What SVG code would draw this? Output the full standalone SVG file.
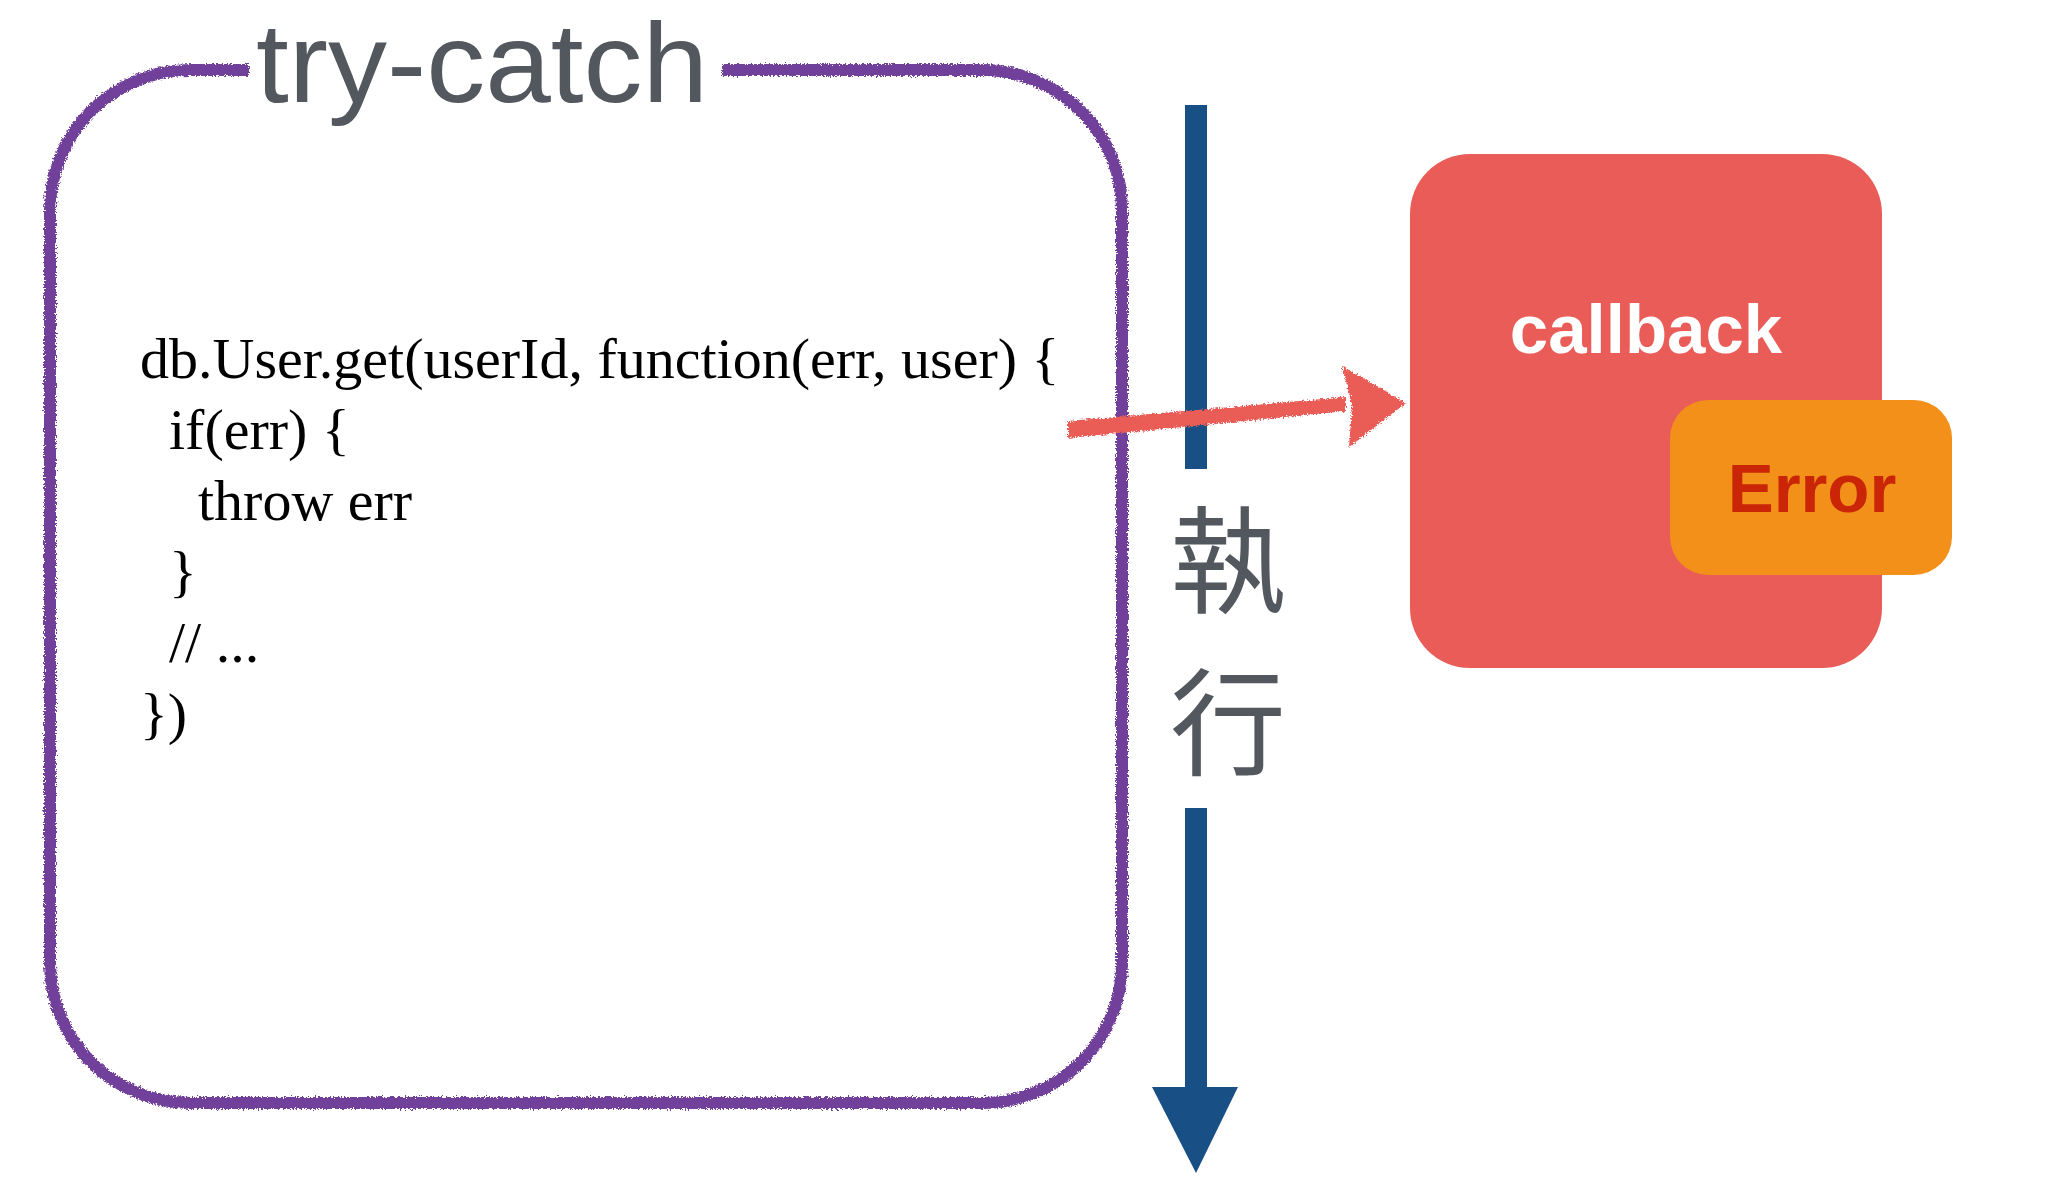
<svg xmlns="http://www.w3.org/2000/svg" width="2070" height="1196" viewBox="0 0 2070 1196">
<defs>
<style>
.code{font-family:"Liberation Serif","Times New Roman",serif;font-size:58px;fill:#000}
.title{font-family:"Liberation Sans",Arial,sans-serif;font-size:114px;fill:#53585f}
.boxlabel{font-family:"Liberation Sans",Arial,sans-serif;font-weight:bold;font-size:69px;text-anchor:middle}
.cjk{font-family:"Noto Sans CJK TC","Noto Sans CJK SC",sans-serif;font-size:116px;fill:#53585f;text-anchor:middle}
</style>
<filter id="chalk" x="-5%" y="-5%" width="110%" height="110%">
<feTurbulence type="fractalNoise" baseFrequency="0.6" numOctaves="2" seed="3" result="n"/>
<feDisplacementMap in="SourceGraphic" in2="n" scale="6" xChannelSelector="R" yChannelSelector="G"/>
</filter>
</defs>
<rect width="2070" height="1196" fill="#fff"/>

<g id="try-catch">
<path d="M249,70 L190,70 A140,140 0 0 0 50,210 L50,963 A140,140 0 0 0 190,1103 L982,1103 A140,140 0 0 0 1122,963 L1122,210 A140,140 0 0 0 982,70 L722,70" fill="none" stroke="#71409b" stroke-width="12" filter="url(#chalk)"/>
<text class="title" x="256" y="102" textLength="452" lengthAdjust="spacingAndGlyphs">try-catch</text>
</g>

<g id="code">
<text class="code" x="140" y="378">db.User.get(userId, function(err, user) {</text>
<text class="code" x="169" y="449">if(err) {</text>
<text class="code" x="198" y="520">throw err</text>
<text class="code" x="169" y="591">}</text>
<text class="code" x="169" y="662">// ...</text>
<text class="code" x="140" y="733">})</text>
</g>

<g id="exec-label">
<text class="cjk" x="1228" y="604">執</text>
<text class="cjk" x="1228" y="766">行</text>
</g>

<g id="callback">
<rect x="1410" y="154" width="472" height="514" rx="60" fill="#ea5c57"/>
<text class="boxlabel" x="1646" y="353" fill="#fff">callback</text>
</g>

<g id="error">
<rect x="1670" y="400" width="282" height="175" rx="38" fill="#f2901a"/>
<text class="boxlabel" x="1812" y="512" fill="#c92506">Error</text>
</g>

<g id="connectors">
<g id="exec-arrow" fill="#184f85">
<rect x="1185" y="105" width="22" height="364"/>
<rect x="1185" y="808" width="22" height="281"/>
<polygon points="1152,1087 1238,1087 1196,1173"/>
</g>
<g id="callback-arrow" fill="#ea5c57" filter="url(#chalk)">
<polygon points="1068,421 1346,397 1346,411 1068,438"/>
<polygon points="1342,366 1406,403 1349,447 1352,405"/>
</g>
</g>
</svg>
